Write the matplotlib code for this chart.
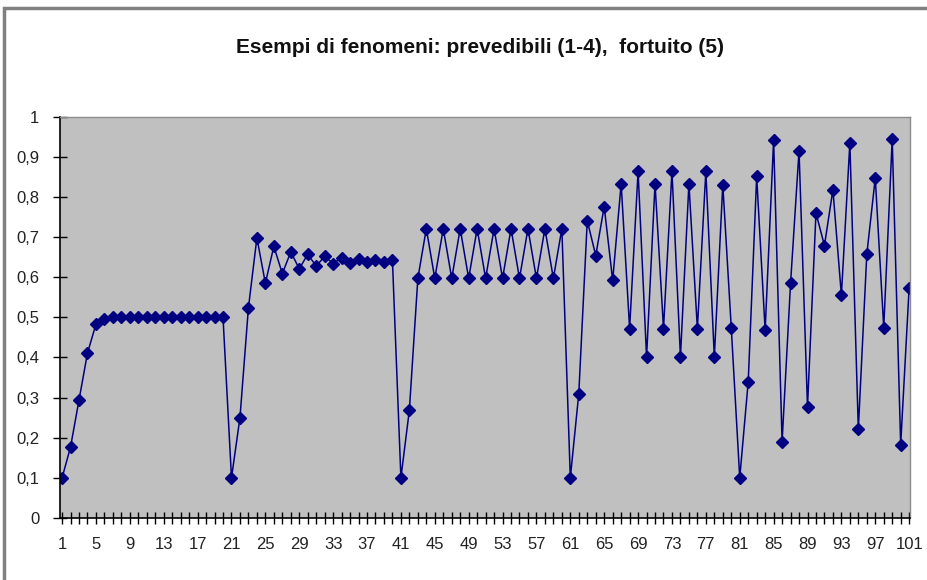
import numpy as np
import matplotlib
matplotlib.use("Agg")
from matplotlib import pyplot as plt

# series values, read step by step (five regimes of 20 steps each, plus the last point)
steps = list(range(1, 102))

seg1 = [0.10, 0.177, 0.294, 0.411, 0.483, 0.495] + [0.50] * 14
seg2 = [0.10, 0.250, 0.524, 0.698, 0.585, 0.677, 0.609, 0.663, 0.621, 0.657,
        0.628, 0.652, 0.634, 0.648, 0.636, 0.646, 0.638, 0.644, 0.639, 0.642]
seg3 = [0.10, 0.269] + [0.597, 0.721] * 9
seg4 = [0.10, 0.310, 0.741, 0.654, 0.776, 0.592, 0.833, 0.472, 0.864, 0.401,
        0.833, 0.472, 0.864, 0.401, 0.833, 0.472, 0.864, 0.401, 0.831, 0.474]
seg5 = [0.10, 0.339, 0.851, 0.468, 0.942, 0.190, 0.585, 0.915, 0.277, 0.760,
        0.679, 0.818, 0.555, 0.934, 0.221, 0.657, 0.847, 0.474, 0.944, 0.183,
        0.574]
values = seg1 + seg2 + seg3 + seg4 + seg5

xtick_labels = list(range(1, 102, 4))
ytick_values = [0, 0.1, 0.2, 0.3, 0.4, 0.5, 0.6, 0.7, 0.8, 0.9, 1]
ytick_labels = ["0", "0,1", "0,2", "0,3", "0,4", "0,5", "0,6", "0,7", "0,8", "0,9", "1"]

title = "Esempi di fenomeni: prevedibili (1-4),  fortuito (5)"

plt.rcParams['font.family'] = ['Liberation Sans', 'DejaVu Sans']

fig = plt.figure(figsize=(9.28, 5.8), dpi=100)
fig.patch.set_facecolor('white')

# outer chart frame
frame = plt.Rectangle((0.004, -0.01), 1.2, 0.996, transform=fig.transFigure,
                      fill=False, edgecolor='#808080', linewidth=2.5)
fig.add_artist(frame)

ax = fig.add_axes([0.0647, 0.1069, 0.9159, 0.6919])
ax.set_facecolor('#C0C0C0')

ax.plot(steps, values, color='#000080', linewidth=1.1, marker='D',
        markersize=6.5, markerfacecolor='#000080', markeredgecolor='#000080')

ax.set_xlim(0.76, 101.1)
ax.set_ylim(0, 1)

ax.set_xticks(steps, minor=False)
ax.set_xticklabels([str(s) if s in xtick_labels else "" for s in steps])
ax.set_yticks(ytick_values)
ax.set_yticklabels(ytick_labels)

ax.tick_params(axis='x', direction='inout', length=8, width=1, color='black',
               labelsize=12, pad=10, labelcolor='#222222')
ax.tick_params(axis='y', direction='inout', length=10, width=1, color='black',
               labelsize=12, pad=10, labelcolor='#222222')

for side in ['left', 'bottom']:
    ax.spines[side].set_color('black')
    ax.spines[side].set_linewidth(1.2)
for side in ['top', 'right']:
    ax.spines[side].set_color('#8c8c8c')
    ax.spines[side].set_linewidth(1.0)

fig.text(0.517, 0.918, title, ha='center', va='center', fontsize=15,
         fontweight='bold', color='#111111')

fig.savefig('out.png', dpi=100)
